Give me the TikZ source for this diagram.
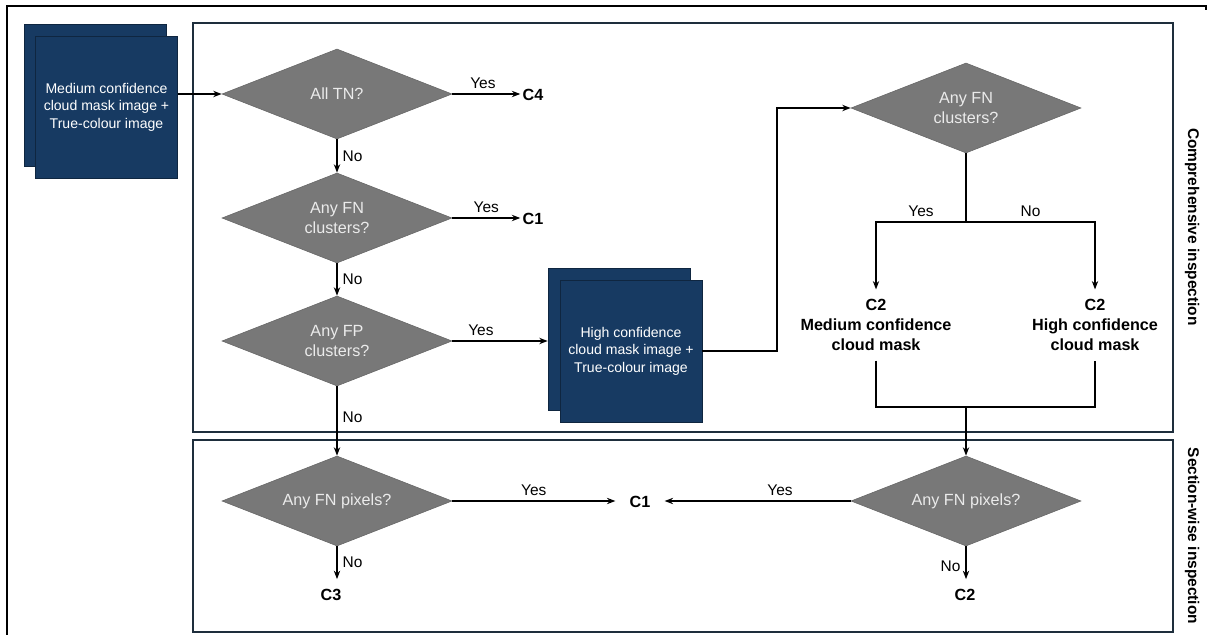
\documentclass[tikz,border=0pt]{standalone}
\usepackage{fontspec}
\setmainfont{Liberation Sans}
\usetikzlibrary{shapes.geometric,arrows.meta}
\definecolor{navy}{HTML}{173A62}
\definecolor{dgrey}{HTML}{787878}
\definecolor{panel}{HTML}{1E2E3C}
\begin{document}
\begin{tikzpicture}[x=0.025cm,y=-0.025cm,
>={Stealth[length=6pt,width=4.5pt]},
% common options for the image stacks:
imgbox/.style = {draw=navy!65!black, fill=navy, text=white, align=center,
            minimum width=3.55cm, minimum height=3.55cm, inner sep=0,
            font=\fontsize{10}{12.5}\selectfont},
% common options for the decisions:
decision/.style = {diamond, aspect=2.55, draw=black!60, fill=dgrey, text=black!8,
            align=center, minimum width=5.75cm, minimum height=2.25cm, inner sep=0,
            font=\fontsize{11.5}{14}\selectfont},
% common options for the outcomes:
outcome/.style = {align=center, inner xsep=1.5pt, inner ysep=7pt,
            font=\bfseries\fontsize{11.5}{14}\selectfont},
lbl/.style = {font=\fontsize{11}{13}\selectfont},
flow/.style = {->, line width=1.3pt}]
\useasboundingbox (0,0) rectangle (1209,635);
% frames
\draw[line width=1.2pt] (7,635) -- (7,6) -- (1206,6) -- ++(0,4);
\draw[panel, line width=1.5pt] (193,23) rectangle (1173,432);
\draw[panel, line width=1.5pt] (193,440) rectangle (1173,632);
\node[rotate=-90, font=\bfseries\fontsize{11}{13}\selectfont] (comp) at (1192,227) {Comprehensive inspection};
\node[rotate=-90, font=\bfseries\fontsize{11}{13}\selectfont] (sect) at (1192,536) {Section-wise inspection};
% image stacks
\node[imgbox] (inback) at (95,95) {};
\node[imgbox] (in) at (106.5,107) {Medium confidence\\cloud mask image +\\True-colour image};
\node[imgbox] (hiback) at (619,339) {};
\node[imgbox] (hi) at (631,351) {High confidence\\cloud mask image +\\True-colour image};
% decisions
\node[decision] (d1) at (337,94) {All TN?};
\node[decision] (d2) at (337,218) {Any FN\\clusters?};
\node[decision] (d3) at (337,341) {Any FP\\clusters?};
\node[decision] (d4) at (337,501) {Any FN pixels?};
\node[decision] (d5) at (966,108) {Any FN\\clusters?};
\node[decision] (d6) at (966,501) {Any FN pixels?};
% outcomes
\node[outcome] (c4) at (533,95) {C4};
\node[outcome] (c1a) at (533,219) {C1};
\node[outcome, inner xsep=0.35cm] (c1b) at (640,502) {C1};
\node[outcome] (c3) at (331,595) {C3};
\node[outcome] (c2b) at (965,595) {C2};
\node[outcome] (c2m) at (876,325) {C2\\Medium confidence\\cloud mask};
\node[outcome] (c2h) at (1095,325) {C2\\High confidence\\cloud mask};
\coordinate (br) at (966,222);
\coordinate (mg) at (966,407);
% connectors
\draw[flow] (in.east |- d1.west) -- (d1.west);
\draw[flow] (d1.east) -- node[lbl, above, pos=.45] (y1) {Yes} (d1.east -| c4.west);
\draw[flow] (d1.south) -- node[lbl, right] (n1) {No} (d2.north);
\draw[flow] (d2.east) -- node[lbl, above, pos=.5] (y2) {Yes} (d2.east -| c1a.west);
\draw[flow] (d2.south) -- node[lbl, right] (n2) {No} (d3.north);
\draw[flow] (d3.east) -- node[lbl, above, pos=.3] (y3) {Yes} (d3.east -| hiback.west);
\draw[flow] (d3.south) -- node[lbl, right, pos=.45] (n3) {No} (d4.north);
\draw[flow] (d4.east) -- node[lbl, above] (y4) {Yes} (d4.east -| c1b.west);
\draw[flow] (d4.south) -- node[lbl, right] (n4) {No} (d4.south |- c3.north);
\draw[flow] (hi.east) -- ++(75,0) |- (d5.west);
\draw[line width=1.3pt] (d5.south) -- (br);
\draw[flow] (br) -| node[lbl, above, pos=.25] (y5) {Yes} (c2m.north);
\draw[flow] (br) -| node[lbl, above, pos=.25] (n5) {No} (c2h.north);
\draw[line width=1.3pt] (c2m.south) |- (mg) -| (c2h.south);
\draw[flow] (mg) -- (d6.north);
\draw[flow] (d6.west) -- node[lbl, above, pos=.38] (y6) {Yes} (d6.west -| c1b.east);
\draw[flow] (d6.south) -- node[lbl, left, pos=.6] (n6) {No} (d6.south |- c2b.north);
\end{tikzpicture}
\end{document}
